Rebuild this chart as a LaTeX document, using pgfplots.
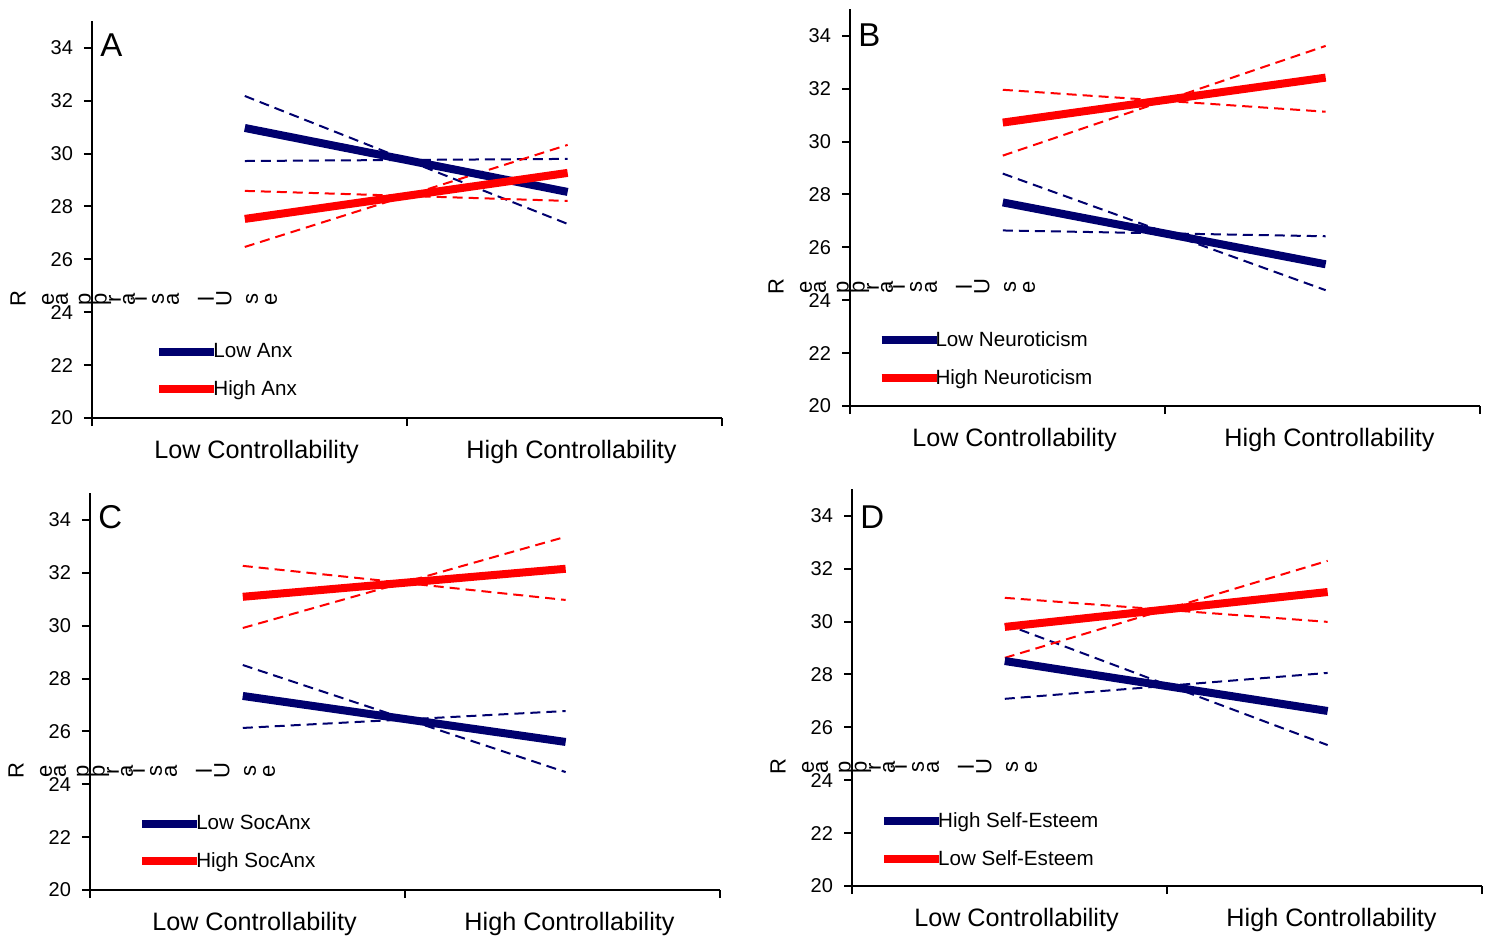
\documentclass[border=0pt]{standalone}
\usepackage{pgfplots}
\pgfplotsset{compat=1.18}
\usepackage{fontspec}
\setmainfont{Liberation Sans}
\definecolor{navy}{RGB}{0,0,110}
\definecolor{myred}{RGB}{255,0,0}
\pgfplotsset{
  panel/.style={
    scale only axis, width=315pt, height=198.3pt,
    xmin=0, xmax=2, ymin=20, ymax=35,
    axis x line=bottom, axis y line=left,
    axis line style={-, line width=1pt},
    xtick={0,1,2}, xticklabels={},
    extra x ticks={0.5,1.5},
    extra x tick labels={Low Controllability, High Controllability},
    extra x tick style={major tick length=0pt,
      tick label style={font=\fontsize{12.6}{14}\selectfont, yshift=-7.5pt, xshift=3.5pt}},
    ytick={20,22,...,34},
    tick align=outside, major tick length=4pt,
    tick style={black, line width=1pt},
    y tick label style={font=\fontsize{10}{12}\selectfont, xshift=-2pt},
    /pgf/number format/assume math mode=true,
    clip=false,
    legend cell align=left,
    legend style={draw=none, fill=none, anchor=north west, inner sep=0pt,
      row sep=8pt, font=\fontsize{10.3}{12}\selectfont, nodes={inner sep=1pt},
      /tikz/every odd column/.append style={column sep=-3.5pt}},
    legend image code/.code={\draw[##1, solid, line width=4pt] (0pt,0pt) -- (27.5pt,0pt);},
  },
  thk/.style={line width=4pt, line cap=butt, no markers},
  dsh/.style={line width=1pt, dash pattern=on 5pt off 3pt, no markers, forget plot},
}
\newcommand{\panelletter}[2]{\node[anchor=west, inner sep=0pt, font=\fontsize{16.5}{18}\selectfont] at ([xshift=4pt]axis cs:0,#2) {#1};}
\begin{document}
\begin{tikzpicture}
% ---------------- A
\begin{axis}[panel, name=A, at={(46pt,-209pt)}, anchor=south west,
  legend style={at={(axis description cs:0.100,0.195)}}]
\addplot[dsh, navy] coordinates {(0.485,32.18) (1.51,27.34)};
\addplot[dsh, navy] coordinates {(0.485,29.72) (1.51,29.80)};
\addplot[dsh, myred] coordinates {(0.485,28.59) (1.51,28.21)};
\addplot[dsh, myred] coordinates {(0.485,26.47) (1.51,30.33)};
\addplot[thk, navy] coordinates {(0.485,30.97) (1.51,28.55)};
\addplot[thk, myred] coordinates {(0.485,27.53) (1.51,29.27)};
\legend{Low Anx, High Anx}
\panelletter{A}{34.11}
\end{axis}
% ---------------- B
\begin{axis}[panel, name=B, at={(425pt,-203pt)}, anchor=south west,
  legend style={at={(axis description cs:0.043,0.194)}}]
\addplot[dsh, navy] coordinates {(0.485,28.79) (1.51,24.38)};
\addplot[dsh, navy] coordinates {(0.485,26.64) (1.51,26.42)};
\addplot[dsh, myred] coordinates {(0.485,31.96) (1.51,31.13)};
\addplot[dsh, myred] coordinates {(0.485,29.47) (1.51,33.62)};
\addplot[thk, navy] coordinates {(0.485,27.70) (1.51,25.36)};
\addplot[thk, myred] coordinates {(0.485,30.72) (1.51,32.42)};
\legend{Low Neuroticism, High Neuroticism}
\panelletter{B}{34.04}
\end{axis}
% ---------------- C
\begin{axis}[panel, name=C, at={(45pt,-445pt)}, anchor=south west,
  legend style={at={(axis description cs:0.076,0.195)}}]
\addplot[dsh, navy] coordinates {(0.485,28.51) (1.51,24.46)};
\addplot[dsh, navy] coordinates {(0.485,26.13) (1.51,26.77)};
\addplot[dsh, myred] coordinates {(0.485,32.26) (1.51,30.97)};
\addplot[dsh, myred] coordinates {(0.485,29.91) (1.51,33.36)};
\addplot[thk, navy] coordinates {(0.485,27.34) (1.51,25.60)};
\addplot[thk, myred] coordinates {(0.485,31.09) (1.51,32.15)};
\legend{Low SocAnx, High SocAnx}
\panelletter{C}{34.11}
\end{axis}
% ---------------- D
\begin{axis}[panel, name=D, at={(426pt,-443pt)}, anchor=south west,
  legend style={at={(axis description cs:0.044,0.192)}}]
\addplot[dsh, navy] coordinates {(0.485,29.91) (1.51,25.33)};
\addplot[dsh, navy] coordinates {(0.485,27.08) (1.51,28.06)};
\addplot[dsh, myred] coordinates {(0.485,30.90) (1.51,29.99)};
\addplot[dsh, myred] coordinates {(0.485,28.63) (1.51,32.30)};
\addplot[thk, navy] coordinates {(0.485,28.51) (1.51,26.62)};
\addplot[thk, myred] coordinates {(0.485,29.80) (1.51,31.12)};
\legend{High Self-Esteem, Low Self-Esteem}
\panelletter{D}{33.96}
\end{axis}
% ---------------- broken y labels
\foreach \p in {A,B,C,D} {
  \foreach \c/\x in {R/0,e/15,a/22,p/34.5,p/42.5,r/48.5,a/55.5,i/60.5,s/70,a/77.5,l/94,U/103,s/117,e/126.5} {
    \node[rotate=90, inner sep=0pt, font=\fontsize{11}{13}\selectfont]
      at ([xshift=\x pt-37pt, yshift=59.5pt]\p.south west) {\c};
  }
}
\pgfresetboundingbox
\path[use as bounding box] (0pt,0pt) rectangle (745.5pt,-469pt);
\end{tikzpicture}
\end{document}
